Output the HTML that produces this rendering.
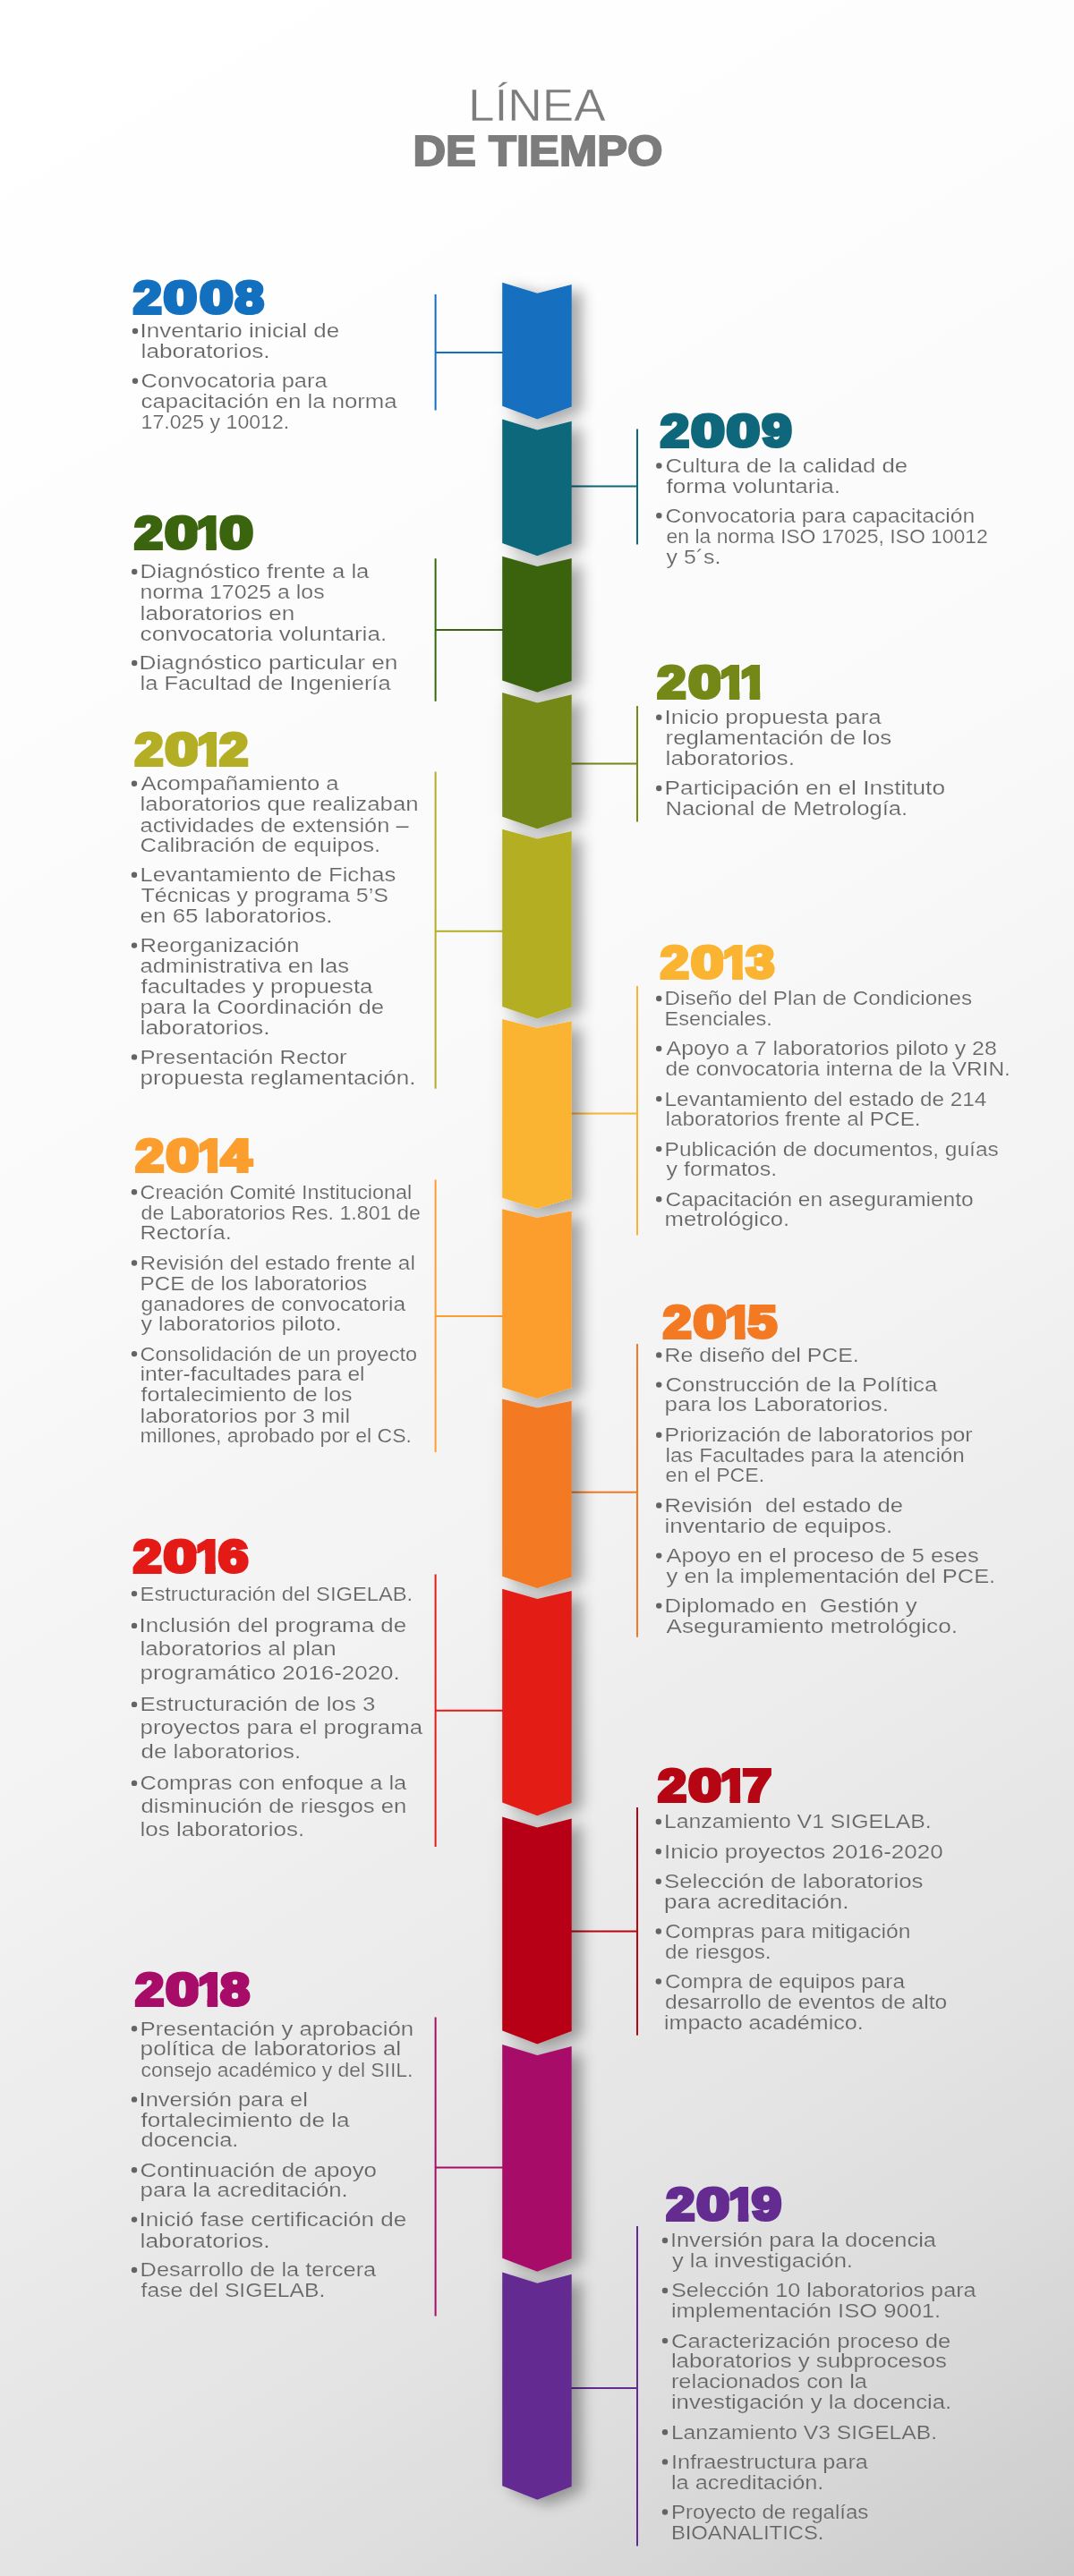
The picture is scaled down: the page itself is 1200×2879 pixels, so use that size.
<!DOCTYPE html>
<html lang="es"><head><meta charset="utf-8"><title>Línea de tiempo</title>
<style>
html,body{margin:0;padding:0;}
body{width:1200px;height:2879px;overflow:hidden;background:#e9e9e9;}
svg{display:block;}
text{font-family:"Liberation Sans",sans-serif;}
.b{font-size:22.3px;fill:#646464;}
.y{font-weight:bold;}
</style></head><body>
<svg width="1200" height="2879" viewBox="0 0 1200 2879">
<defs>
<linearGradient id="bg" gradientUnits="userSpaceOnUse" x1="0" y1="0" x2="1587.8" y2="2646.3">
<stop offset="0" stop-color="#ffffff"/><stop offset="0.222" stop-color="#fdfdfd"/><stop offset="0.417" stop-color="#f9f9f9"/><stop offset="0.583" stop-color="#f2f2f2"/><stop offset="0.722" stop-color="#e9e9e9"/><stop offset="0.81" stop-color="#e3e3e3"/><stop offset="0.889" stop-color="#dbdbdb"/><stop offset="1.0" stop-color="#cbcbcb"/>
</linearGradient>
<filter id="sh" x="-60%" y="-2%" width="260%" height="104%">
<feGaussianBlur in="SourceAlpha" stdDeviation="8"/><feOffset dx="12" dy="6"/>
<feComponentTransfer result="s1"><feFuncA type="linear" slope="0.31"/></feComponentTransfer>
<feGaussianBlur in="SourceAlpha" stdDeviation="10"/>
<feComponentTransfer result="s2"><feFuncA type="linear" slope="0.07"/></feComponentTransfer>
<feMerge><feMergeNode in="s2"/><feMergeNode in="s1"/><feMergeNode in="SourceGraphic"/></feMerge>
</filter>
</defs>
<rect width="1200" height="2879" fill="url(#bg)"/>
<text id="t1" x="523.0" y="135.1" font-size="50.4" fill="#7c7c7c" stroke="#fdfdfd" stroke-width="0.55" textLength="153.6" lengthAdjust="spacingAndGlyphs">LÍNEA</text>
<text id="t2" x="461.5" y="185.3" font-size="48.2" font-weight="bold" fill="#7c7c7c" stroke="#7c7c7c" stroke-width="2" textLength="278.9" lengthAdjust="spacingAndGlyphs">DE TIEMPO</text>
<path d="M486.6 329.0V458.4M486.6 394.0H562.2" stroke="#1270BF" stroke-width="2" fill="none"/>
<path d="M712.0 479.4V608.4M712.0 543.6H637.7" stroke="#0E677B" stroke-width="2" fill="none"/>
<path d="M486.6 624.3V783.8M486.6 704.0H562.2" stroke="#3B640E" stroke-width="2" fill="none"/>
<path d="M712.0 789.0V918.4M712.0 853.6H637.7" stroke="#738817" stroke-width="2" fill="none"/>
<path d="M486.6 862.6V1216.8M486.6 1040.8H562.2" stroke="#B3AE24" stroke-width="2" fill="none"/>
<path d="M712.0 1102.0V1380.5M712.0 1244.4H637.7" stroke="#FBB431" stroke-width="2" fill="none"/>
<path d="M486.6 1318.5V1623.0M486.6 1471.0H562.2" stroke="#FB9E2D" stroke-width="2" fill="none"/>
<path d="M712.0 1502.0V1829.7M712.0 1667.7H637.7" stroke="#F37922" stroke-width="2" fill="none"/>
<path d="M486.6 1759.6V2064.0M486.6 1911.8H562.2" stroke="#E41A17" stroke-width="2" fill="none"/>
<path d="M712.0 2020.0V2274.8M712.0 2158.6H637.7" stroke="#B70613" stroke-width="2" fill="none"/>
<path d="M486.6 2254.4V2588.5M486.6 2422.6H562.2" stroke="#A70D68" stroke-width="2" fill="none"/>
<path d="M712.0 2488.0V2845.4M712.0 2669.0H637.7" stroke="#642C91" stroke-width="2" fill="none"/>
<g filter="url(#sh)">
<path fill="#1270BF" d="M561.2 315.7L600.3 327.7L638.7 317.9L638.7 454.40000000000003L600.3 468.5L561.2 453.8Z"/>
<path fill="#0E677B" d="M561.2 468.6L600.3 480.4L638.7 470.8L638.7 607.6L600.3 621.3L561.2 607.0Z"/>
<path fill="#3B640E" d="M561.2 621.8L600.3 633.0L638.7 624.0L638.7 761.0L600.3 773.7L561.2 760.4Z"/>
<path fill="#738817" d="M561.2 774.0L600.3 785.5L638.7 776.2L638.7 913.4L600.3 926.3L561.2 912.8Z"/>
<path fill="#B3AE24" d="M561.2 926.8L600.3 937.5L638.7 929.0L638.7 1125.6L600.3 1138.5L561.2 1125.0Z"/>
<path fill="#FBB431" d="M561.2 1139.0L600.3 1149.0L638.7 1141.2L638.7 1339.3L600.3 1350.7L561.2 1338.7Z"/>
<path fill="#FB9E2D" d="M561.2 1351.2L600.3 1361.0L638.7 1353.4L638.7 1551.0L600.3 1563.0L561.2 1550.4Z"/>
<path fill="#F37922" d="M561.2 1563.5L600.3 1573.5L638.7 1565.7L638.7 1762.3999999999999L600.3 1775.0L561.2 1761.8Z"/>
<path fill="#E41A17" d="M561.2 1775.8L600.3 1787.0L638.7 1778.0L638.7 2015.1L600.3 2029.3L561.2 2014.5Z"/>
<path fill="#B70613" d="M561.2 2030.4L600.3 2042.4L638.7 2032.6000000000001L638.7 2270.1L600.3 2284.6L561.2 2269.5Z"/>
<path fill="#A70D68" d="M561.2 2284.9L600.3 2297.0L638.7 2287.1L638.7 2524.2999999999997L600.3 2538.8L561.2 2523.7Z"/>
<path fill="#642C91" d="M561.2 2539.5L600.3 2551.8L638.7 2541.7L638.7 2778.9L600.3 2793.7L561.2 2778.3Z"/>
</g>
<defs><clipPath id="cy2010"><path d="M147.80 574.00H183.40V617.40H147.80ZM182.00 574.00H220.50V617.40H182.00ZM220.50 574.00H241.80V617.40H230.36V592.42H220.50Z"/></clipPath><clipPath id="cy2011"><path d="M732.20 740.60H768.00V784.00H732.20ZM767.00 740.60H805.00V784.00H767.00ZM805.00 740.60H826.30V784.00H814.86V759.02H805.00ZM827.70 740.60H849.20V784.00H837.65V759.02H827.70Z"/></clipPath><clipPath id="cy2012"><path d="M148.30 815.30H183.80V858.70H148.30ZM182.30 815.30H220.80V858.70H182.30ZM220.80 815.30H242.10V858.70H230.66V833.72H220.80Z"/></clipPath><clipPath id="cy2013"><path d="M735.70 1053.70H771.30V1097.10H735.70ZM769.90 1053.70H808.20V1097.10H769.90ZM808.20 1053.70H829.80V1097.10H818.19V1072.12H808.20Z"/></clipPath><clipPath id="cy2014"><path d="M149.10 1269.50H184.70V1312.90H149.10ZM183.40 1269.50H221.90V1312.90H183.40ZM221.90 1269.50H243.20V1312.90H231.76V1287.92H221.90Z"/></clipPath><clipPath id="cy2015"><path d="M738.50 1456.00H774.00V1499.40H738.50ZM772.50 1456.00H811.10V1499.40H772.50ZM811.10 1456.00H832.60V1499.40H821.05V1474.42H811.10Z"/></clipPath><clipPath id="cy2016"><path d="M146.70 1717.60H182.30V1761.00H146.70ZM180.70 1717.60H219.40V1761.00H180.70ZM219.40 1717.60H240.80V1761.00H229.31V1736.02H219.40Z"/></clipPath><clipPath id="cy2017"><path d="M732.80 1973.30H768.40V2016.70H732.80ZM767.00 1973.30H805.50V2016.70H767.00ZM805.50 1973.30H827.10V2016.70H815.49V1991.72H805.50Z"/></clipPath><clipPath id="cy2018"><path d="M148.80 2201.50H184.60V2244.90H148.80ZM183.10 2201.50H221.60V2244.90H183.10ZM221.60 2201.50H243.20V2244.90H231.59V2219.92H221.60Z"/></clipPath><clipPath id="cy2019"><path d="M742.00 2441.20H777.70V2484.60H742.00ZM776.20 2441.20H814.70V2484.60H776.20ZM814.70 2441.20H836.30V2484.60H824.69V2459.62H814.70Z"/></clipPath></defs>
<g opacity="0.999">
<text class="y" font-size="49.71" fill="#1270BF" stroke="#1270BF" stroke-width="4.2" stroke-linejoin="miter"><tspan x="149.13" y="350.10" textLength="31.55" lengthAdjust="spacingAndGlyphs">2</tspan><tspan x="182.88" y="350.10" textLength="37.24" lengthAdjust="spacingAndGlyphs">0</tspan><tspan x="223.28" y="350.10" textLength="37.24" lengthAdjust="spacingAndGlyphs">0</tspan><tspan x="262.51" y="350.10" textLength="32.23" lengthAdjust="spacingAndGlyphs">8</tspan></text>
<text class="y" font-size="49.71" fill="#0E677B" stroke="#0E677B" stroke-width="4.2" stroke-linejoin="miter"><tspan x="738.13" y="498.50" textLength="31.84" lengthAdjust="spacingAndGlyphs">2</tspan><tspan x="772.18" y="498.50" textLength="37.44" lengthAdjust="spacingAndGlyphs">0</tspan><tspan x="811.88" y="498.50" textLength="37.24" lengthAdjust="spacingAndGlyphs">0</tspan><tspan x="851.55" y="498.50" textLength="33.04" lengthAdjust="spacingAndGlyphs">9</tspan></text>
<text class="y" font-size="49.71" fill="#3B640E" stroke="#3B640E" stroke-width="4.2" stroke-linejoin="miter" clip-path="url(#cy2010)"><tspan x="150.23" y="613.30" textLength="31.55" lengthAdjust="spacingAndGlyphs">2</tspan><tspan x="184.18" y="613.30" textLength="37.24" lengthAdjust="spacingAndGlyphs">0</tspan><tspan x="220.13" y="613.30" textLength="29.19" lengthAdjust="spacingAndGlyphs">1</tspan></text><text class="y" font-size="49.71" fill="#3B640E" stroke="#3B640E" stroke-width="4.2" stroke-linejoin="miter"><tspan x="245.48" y="613.30" textLength="37.24" lengthAdjust="spacingAndGlyphs">0</tspan></text>
<text class="y" font-size="49.71" fill="#738817" stroke="#738817" stroke-width="4.2" stroke-linejoin="miter" clip-path="url(#cy2011)"><tspan x="734.63" y="779.90" textLength="31.74" lengthAdjust="spacingAndGlyphs">2</tspan><tspan x="769.18" y="779.90" textLength="36.74" lengthAdjust="spacingAndGlyphs">0</tspan><tspan x="804.63" y="779.90" textLength="29.19" lengthAdjust="spacingAndGlyphs">1</tspan><tspan x="827.32" y="779.90" textLength="29.48" lengthAdjust="spacingAndGlyphs">1</tspan></text>
<text class="y" font-size="49.71" fill="#B3AE24" stroke="#B3AE24" stroke-width="4.2" stroke-linejoin="miter" clip-path="url(#cy2012)"><tspan x="150.73" y="854.60" textLength="31.45" lengthAdjust="spacingAndGlyphs">2</tspan><tspan x="184.48" y="854.60" textLength="37.24" lengthAdjust="spacingAndGlyphs">0</tspan><tspan x="220.43" y="854.60" textLength="29.19" lengthAdjust="spacingAndGlyphs">1</tspan></text><text class="y" font-size="49.71" fill="#B3AE24" stroke="#B3AE24" stroke-width="4.2" stroke-linejoin="miter"><tspan x="245.23" y="854.60" textLength="31.84" lengthAdjust="spacingAndGlyphs">2</tspan></text>
<text class="y" font-size="49.71" fill="#FBB431" stroke="#FBB431" stroke-width="4.2" stroke-linejoin="miter" clip-path="url(#cy2013)"><tspan x="738.13" y="1093.00" textLength="31.55" lengthAdjust="spacingAndGlyphs">2</tspan><tspan x="772.08" y="1093.00" textLength="37.04" lengthAdjust="spacingAndGlyphs">0</tspan><tspan x="807.81" y="1093.00" textLength="29.62" lengthAdjust="spacingAndGlyphs">1</tspan></text><text class="y" font-size="49.71" fill="#FBB431" stroke="#FBB431" stroke-width="4.2" stroke-linejoin="miter"><tspan x="833.40" y="1093.00" textLength="31.75" lengthAdjust="spacingAndGlyphs">3</tspan></text>
<text class="y" font-size="49.71" fill="#FB9E2D" stroke="#FB9E2D" stroke-width="4.2" stroke-linejoin="miter" clip-path="url(#cy2014)"><tspan x="151.53" y="1308.80" textLength="31.55" lengthAdjust="spacingAndGlyphs">2</tspan><tspan x="185.58" y="1308.80" textLength="37.24" lengthAdjust="spacingAndGlyphs">0</tspan><tspan x="221.53" y="1308.80" textLength="29.19" lengthAdjust="spacingAndGlyphs">1</tspan></text><text class="y" font-size="49.71" fill="#FB9E2D" stroke="#FB9E2D" stroke-width="4.2" stroke-linejoin="miter"><tspan x="246.96" y="1308.80" textLength="33.99" lengthAdjust="spacingAndGlyphs">4</tspan></text>
<text class="y" font-size="49.71" fill="#F37922" stroke="#F37922" stroke-width="4.2" stroke-linejoin="miter" clip-path="url(#cy2015)"><tspan x="740.93" y="1495.30" textLength="31.45" lengthAdjust="spacingAndGlyphs">2</tspan><tspan x="774.68" y="1495.30" textLength="37.34" lengthAdjust="spacingAndGlyphs">0</tspan><tspan x="810.72" y="1495.30" textLength="29.48" lengthAdjust="spacingAndGlyphs">1</tspan></text><text class="y" font-size="49.71" fill="#F37922" stroke="#F37922" stroke-width="4.2" stroke-linejoin="miter"><tspan x="835.66" y="1495.30" textLength="32.20" lengthAdjust="spacingAndGlyphs">5</tspan></text>
<text class="y" font-size="49.71" fill="#E41A17" stroke="#E41A17" stroke-width="4.2" stroke-linejoin="miter" clip-path="url(#cy2016)"><tspan x="149.13" y="1756.90" textLength="31.55" lengthAdjust="spacingAndGlyphs">2</tspan><tspan x="182.88" y="1756.90" textLength="37.44" lengthAdjust="spacingAndGlyphs">0</tspan><tspan x="219.02" y="1756.90" textLength="29.34" lengthAdjust="spacingAndGlyphs">1</tspan></text><text class="y" font-size="49.71" fill="#E41A17" stroke="#E41A17" stroke-width="4.2" stroke-linejoin="miter"><tspan x="244.04" y="1756.90" textLength="33.30" lengthAdjust="spacingAndGlyphs">6</tspan></text>
<text class="y" font-size="49.71" fill="#B70613" stroke="#B70613" stroke-width="4.2" stroke-linejoin="miter" clip-path="url(#cy2017)"><tspan x="735.23" y="2012.60" textLength="31.55" lengthAdjust="spacingAndGlyphs">2</tspan><tspan x="769.18" y="2012.60" textLength="37.24" lengthAdjust="spacingAndGlyphs">0</tspan><tspan x="805.11" y="2012.60" textLength="29.62" lengthAdjust="spacingAndGlyphs">1</tspan></text><text class="y" font-size="49.71" fill="#B70613" stroke="#B70613" stroke-width="4.2" stroke-linejoin="miter"><tspan x="829.76" y="2012.60" textLength="32.24" lengthAdjust="spacingAndGlyphs">7</tspan></text>
<text class="y" font-size="49.71" fill="#A70D68" stroke="#A70D68" stroke-width="4.2" stroke-linejoin="miter" clip-path="url(#cy2018)"><tspan x="151.23" y="2240.80" textLength="31.74" lengthAdjust="spacingAndGlyphs">2</tspan><tspan x="185.28" y="2240.80" textLength="37.24" lengthAdjust="spacingAndGlyphs">0</tspan><tspan x="221.21" y="2240.80" textLength="29.62" lengthAdjust="spacingAndGlyphs">1</tspan></text><text class="y" font-size="49.71" fill="#A70D68" stroke="#A70D68" stroke-width="4.2" stroke-linejoin="miter"><tspan x="246.32" y="2240.80" textLength="32.61" lengthAdjust="spacingAndGlyphs">8</tspan></text>
<text class="y" font-size="49.71" fill="#642C91" stroke="#642C91" stroke-width="4.2" stroke-linejoin="miter" clip-path="url(#cy2019)"><tspan x="744.43" y="2480.50" textLength="31.64" lengthAdjust="spacingAndGlyphs">2</tspan><tspan x="778.38" y="2480.50" textLength="37.24" lengthAdjust="spacingAndGlyphs">0</tspan><tspan x="814.31" y="2480.50" textLength="29.62" lengthAdjust="spacingAndGlyphs">1</tspan></text><text class="y" font-size="49.71" fill="#642C91" stroke="#642C91" stroke-width="4.2" stroke-linejoin="miter"><tspan x="839.95" y="2480.50" textLength="32.95" lengthAdjust="spacingAndGlyphs">9</tspan></text>
</g>
<g opacity="0.999">
<circle cx="151.0" cy="370.0" r="3.2" fill="#646464"/>
<text class="b" stroke="url(#bg)" stroke-width="0.22" xml:space="preserve" x="156.60" y="377.0" textLength="222.60" lengthAdjust="spacingAndGlyphs">Inventario inicial de</text>
<text class="b" stroke="url(#bg)" stroke-width="0.22" xml:space="preserve" x="157.60" y="399.5" textLength="144.00" lengthAdjust="spacingAndGlyphs">laboratorios.</text>
<circle cx="151.0" cy="425.7" r="3.2" fill="#646464"/>
<text class="b" stroke="url(#bg)" stroke-width="0.22" xml:space="preserve" x="157.60" y="432.7" textLength="208.00" lengthAdjust="spacingAndGlyphs">Convocatoria para</text>
<text class="b" stroke="url(#bg)" stroke-width="0.22" xml:space="preserve" x="157.60" y="455.8" textLength="286.00" lengthAdjust="spacingAndGlyphs">capacitación en la norma</text>
<text class="b" stroke="url(#bg)" stroke-width="0.22" xml:space="preserve" x="157.60" y="478.7" textLength="165.60" lengthAdjust="spacingAndGlyphs">17.025 y 10012.</text>
<circle cx="736.3" cy="520.5" r="3.2" fill="#646464"/>
<text class="b" stroke="url(#bg)" stroke-width="0.22" xml:space="preserve" x="743.60" y="528.3" textLength="270.60" lengthAdjust="spacingAndGlyphs">Cultura de la calidad de</text>
<text class="b" stroke="url(#bg)" stroke-width="0.22" xml:space="preserve" x="744.60" y="550.7" textLength="194.40" lengthAdjust="spacingAndGlyphs">forma voluntaria.</text>
<circle cx="736.3" cy="576.3" r="3.2" fill="#646464"/>
<text class="b" stroke="url(#bg)" stroke-width="0.22" xml:space="preserve" x="743.60" y="584.1" textLength="345.60" lengthAdjust="spacingAndGlyphs">Convocatoria para capacitación</text>
<text class="b" stroke="url(#bg)" stroke-width="0.22" xml:space="preserve" x="744.60" y="606.5" textLength="359.20" lengthAdjust="spacingAndGlyphs">en la norma ISO 17025, ISO 10012</text>
<text class="b" stroke="url(#bg)" stroke-width="0.22" xml:space="preserve" x="744.60" y="629.6" textLength="60.80" lengthAdjust="spacingAndGlyphs">y 5´s.</text>
<circle cx="150.2" cy="639.0" r="3.2" fill="#646464"/>
<text class="b" stroke="url(#bg)" stroke-width="0.22" xml:space="preserve" x="156.60" y="646.4" textLength="255.80" lengthAdjust="spacingAndGlyphs">Diagnóstico frente a la</text>
<text class="b" stroke="url(#bg)" stroke-width="0.22" xml:space="preserve" x="156.60" y="669.3" textLength="206.00" lengthAdjust="spacingAndGlyphs">norma 17025 a los</text>
<text class="b" stroke="url(#bg)" stroke-width="0.22" xml:space="preserve" x="156.60" y="692.7" textLength="172.60" lengthAdjust="spacingAndGlyphs">laboratorios en</text>
<text class="b" stroke="url(#bg)" stroke-width="0.22" xml:space="preserve" x="156.60" y="715.5" textLength="275.60" lengthAdjust="spacingAndGlyphs">convocatoria voluntaria.</text>
<circle cx="150.2" cy="741.0" r="3.2" fill="#646464"/>
<text class="b" stroke="url(#bg)" stroke-width="0.22" xml:space="preserve" x="155.60" y="748.4" textLength="288.80" lengthAdjust="spacingAndGlyphs">Diagnóstico particular en</text>
<text class="b" stroke="url(#bg)" stroke-width="0.22" xml:space="preserve" x="156.60" y="771.2" textLength="280.00" lengthAdjust="spacingAndGlyphs">la Facultad de Ingeniería</text>
<circle cx="736.2" cy="801.7" r="3.2" fill="#646464"/>
<text class="b" stroke="url(#bg)" stroke-width="0.22" xml:space="preserve" x="742.60" y="809.1" textLength="242.20" lengthAdjust="spacingAndGlyphs">Inicio propuesta para</text>
<text class="b" stroke="url(#bg)" stroke-width="0.22" xml:space="preserve" x="743.60" y="831.8" textLength="252.60" lengthAdjust="spacingAndGlyphs">reglamentación de los</text>
<text class="b" stroke="url(#bg)" stroke-width="0.22" xml:space="preserve" x="743.60" y="854.9" textLength="144.40" lengthAdjust="spacingAndGlyphs">laboratorios.</text>
<circle cx="736.2" cy="881.0" r="3.2" fill="#646464"/>
<text class="b" stroke="url(#bg)" stroke-width="0.22" xml:space="preserve" x="742.60" y="888.4" textLength="313.40" lengthAdjust="spacingAndGlyphs">Participación en el Instituto</text>
<text class="b" stroke="url(#bg)" stroke-width="0.22" xml:space="preserve" x="743.60" y="910.7" textLength="270.60" lengthAdjust="spacingAndGlyphs">Nacional de Metrología.</text>
<circle cx="150.0" cy="875.8" r="3.2" fill="#646464"/>
<text class="b" stroke="url(#bg)" stroke-width="0.22" xml:space="preserve" x="157.60" y="883.2" textLength="221.00" lengthAdjust="spacingAndGlyphs">Acompañamiento a</text>
<text class="b" stroke="url(#bg)" stroke-width="0.22" xml:space="preserve" x="156.60" y="906.0" textLength="311.00" lengthAdjust="spacingAndGlyphs">laboratorios que realizaban</text>
<text class="b" stroke="url(#bg)" stroke-width="0.22" xml:space="preserve" x="156.60" y="929.5" textLength="300.00" lengthAdjust="spacingAndGlyphs">actividades de extensión –</text>
<text class="b" stroke="url(#bg)" stroke-width="0.22" xml:space="preserve" x="156.60" y="952.3" textLength="268.60" lengthAdjust="spacingAndGlyphs">Calibración de equipos.</text>
<circle cx="150.0" cy="977.8" r="3.2" fill="#646464"/>
<text class="b" stroke="url(#bg)" stroke-width="0.22" xml:space="preserve" x="156.60" y="985.2" textLength="285.80" lengthAdjust="spacingAndGlyphs">Levantamiento de Fichas</text>
<text class="b" stroke="url(#bg)" stroke-width="0.22" xml:space="preserve" x="157.60" y="1008.0" textLength="276.40" lengthAdjust="spacingAndGlyphs">Técnicas y programa 5’S</text>
<text class="b" stroke="url(#bg)" stroke-width="0.22" xml:space="preserve" x="156.60" y="1030.8" textLength="215.00" lengthAdjust="spacingAndGlyphs">en 65 laboratorios.</text>
<circle cx="150.0" cy="1056.6" r="3.2" fill="#646464"/>
<text class="b" stroke="url(#bg)" stroke-width="0.22" xml:space="preserve" x="156.60" y="1064.0" textLength="177.80" lengthAdjust="spacingAndGlyphs">Reorganización</text>
<text class="b" stroke="url(#bg)" stroke-width="0.22" xml:space="preserve" x="156.60" y="1086.8" textLength="233.40" lengthAdjust="spacingAndGlyphs">administrativa en las</text>
<text class="b" stroke="url(#bg)" stroke-width="0.22" xml:space="preserve" x="157.60" y="1109.6" textLength="258.80" lengthAdjust="spacingAndGlyphs">facultades y propuesta</text>
<text class="b" stroke="url(#bg)" stroke-width="0.22" xml:space="preserve" x="156.60" y="1133.1" textLength="272.40" lengthAdjust="spacingAndGlyphs">para la Coordinación de</text>
<text class="b" stroke="url(#bg)" stroke-width="0.22" xml:space="preserve" x="156.60" y="1155.9" textLength="145.00" lengthAdjust="spacingAndGlyphs">laboratorios.</text>
<circle cx="150.0" cy="1181.4" r="3.2" fill="#646464"/>
<text class="b" stroke="url(#bg)" stroke-width="0.22" xml:space="preserve" x="156.60" y="1188.8" textLength="231.00" lengthAdjust="spacingAndGlyphs">Presentación Rector</text>
<text class="b" stroke="url(#bg)" stroke-width="0.22" xml:space="preserve" x="156.60" y="1212.0" textLength="307.80" lengthAdjust="spacingAndGlyphs">propuesta reglamentación.</text>
<circle cx="736.2" cy="1116.0" r="3.2" fill="#646464"/>
<text class="b" stroke="url(#bg)" stroke-width="0.22" xml:space="preserve" x="742.60" y="1123.4" textLength="343.60" lengthAdjust="spacingAndGlyphs">Diseño del Plan de Condiciones</text>
<text class="b" stroke="url(#bg)" stroke-width="0.22" xml:space="preserve" x="742.60" y="1146.2" textLength="120.20" lengthAdjust="spacingAndGlyphs">Esenciales.</text>
<circle cx="736.2" cy="1172.0" r="3.2" fill="#646464"/>
<text class="b" stroke="url(#bg)" stroke-width="0.22" xml:space="preserve" x="744.60" y="1179.4" textLength="369.20" lengthAdjust="spacingAndGlyphs">Apoyo a 7 laboratorios piloto y 28</text>
<text class="b" stroke="url(#bg)" stroke-width="0.22" xml:space="preserve" x="743.60" y="1202.2" textLength="385.20" lengthAdjust="spacingAndGlyphs">de convocatoria interna de la VRIN.</text>
<circle cx="736.2" cy="1228.1" r="3.2" fill="#646464"/>
<text class="b" stroke="url(#bg)" stroke-width="0.22" xml:space="preserve" x="742.60" y="1235.5" textLength="359.80" lengthAdjust="spacingAndGlyphs">Levantamiento del estado de 214</text>
<text class="b" stroke="url(#bg)" stroke-width="0.22" xml:space="preserve" x="743.60" y="1258.3" textLength="285.00" lengthAdjust="spacingAndGlyphs">laboratorios frente al PCE.</text>
<circle cx="736.2" cy="1284.1" r="3.2" fill="#646464"/>
<text class="b" stroke="url(#bg)" stroke-width="0.22" xml:space="preserve" x="742.60" y="1291.5" textLength="373.20" lengthAdjust="spacingAndGlyphs">Publicación de documentos, guías</text>
<text class="b" stroke="url(#bg)" stroke-width="0.22" xml:space="preserve" x="744.60" y="1314.4" textLength="123.60" lengthAdjust="spacingAndGlyphs">y formatos.</text>
<circle cx="736.2" cy="1340.2" r="3.2" fill="#646464"/>
<text class="b" stroke="url(#bg)" stroke-width="0.22" xml:space="preserve" x="743.60" y="1347.6" textLength="344.00" lengthAdjust="spacingAndGlyphs">Capacitación en aseguramiento</text>
<text class="b" stroke="url(#bg)" stroke-width="0.22" xml:space="preserve" x="742.60" y="1370.4" textLength="139.60" lengthAdjust="spacingAndGlyphs">metrológico.</text>
<circle cx="150.0" cy="1332.3" r="3.2" fill="#646464"/>
<text class="b" stroke="url(#bg)" stroke-width="0.22" xml:space="preserve" x="156.60" y="1339.7" textLength="303.60" lengthAdjust="spacingAndGlyphs">Creación Comité Institucional</text>
<text class="b" stroke="url(#bg)" stroke-width="0.22" xml:space="preserve" x="157.60" y="1362.5" textLength="312.20" lengthAdjust="spacingAndGlyphs">de Laboratorios Res. 1.801 de</text>
<text class="b" stroke="url(#bg)" stroke-width="0.22" xml:space="preserve" x="156.60" y="1385.3" textLength="102.20" lengthAdjust="spacingAndGlyphs">Rectoría.</text>
<circle cx="150.0" cy="1411.5" r="3.2" fill="#646464"/>
<text class="b" stroke="url(#bg)" stroke-width="0.22" xml:space="preserve" x="156.60" y="1418.9" textLength="307.20" lengthAdjust="spacingAndGlyphs">Revisión del estado frente al</text>
<text class="b" stroke="url(#bg)" stroke-width="0.22" xml:space="preserve" x="156.60" y="1441.7" textLength="253.60" lengthAdjust="spacingAndGlyphs">PCE de los laboratorios</text>
<text class="b" stroke="url(#bg)" stroke-width="0.22" xml:space="preserve" x="157.60" y="1464.5" textLength="295.60" lengthAdjust="spacingAndGlyphs">ganadores de convocatoria</text>
<text class="b" stroke="url(#bg)" stroke-width="0.22" xml:space="preserve" x="157.60" y="1487.3" textLength="224.00" lengthAdjust="spacingAndGlyphs">y laboratorios piloto.</text>
<circle cx="150.0" cy="1513.1" r="3.2" fill="#646464"/>
<text class="b" stroke="url(#bg)" stroke-width="0.22" xml:space="preserve" x="156.60" y="1520.5" textLength="309.40" lengthAdjust="spacingAndGlyphs">Consolidación de un proyecto</text>
<text class="b" stroke="url(#bg)" stroke-width="0.22" xml:space="preserve" x="156.60" y="1543.4" textLength="251.00" lengthAdjust="spacingAndGlyphs">inter-facultades para el</text>
<text class="b" stroke="url(#bg)" stroke-width="0.22" xml:space="preserve" x="157.60" y="1566.2" textLength="236.00" lengthAdjust="spacingAndGlyphs">fortalecimiento de los</text>
<text class="b" stroke="url(#bg)" stroke-width="0.22" xml:space="preserve" x="156.60" y="1589.6" textLength="234.40" lengthAdjust="spacingAndGlyphs">laboratorios por 3 mil</text>
<text class="b" stroke="url(#bg)" stroke-width="0.22" xml:space="preserve" x="156.60" y="1612.4" textLength="303.40" lengthAdjust="spacingAndGlyphs">millones, aprobado por el CS.</text>
<circle cx="736.2" cy="1514.4" r="3.2" fill="#646464"/>
<text class="b" stroke="url(#bg)" stroke-width="0.22" xml:space="preserve" x="742.60" y="1521.8" textLength="217.20" lengthAdjust="spacingAndGlyphs">Re diseño del PCE.</text>
<circle cx="736.2" cy="1547.6" r="3.2" fill="#646464"/>
<text class="b" stroke="url(#bg)" stroke-width="0.22" xml:space="preserve" x="743.60" y="1555.0" textLength="303.60" lengthAdjust="spacingAndGlyphs">Construcción de la Política</text>
<text class="b" stroke="url(#bg)" stroke-width="0.22" xml:space="preserve" x="742.60" y="1577.4" textLength="250.40" lengthAdjust="spacingAndGlyphs">para los Laboratorios.</text>
<circle cx="736.2" cy="1603.7" r="3.2" fill="#646464"/>
<text class="b" stroke="url(#bg)" stroke-width="0.22" xml:space="preserve" x="742.60" y="1611.1" textLength="344.00" lengthAdjust="spacingAndGlyphs">Priorización de laboratorios por</text>
<text class="b" stroke="url(#bg)" stroke-width="0.22" xml:space="preserve" x="743.60" y="1633.9" textLength="334.00" lengthAdjust="spacingAndGlyphs">las Facultades para la atención</text>
<text class="b" stroke="url(#bg)" stroke-width="0.22" xml:space="preserve" x="743.60" y="1656.3" textLength="110.60" lengthAdjust="spacingAndGlyphs">en el PCE.</text>
<circle cx="736.2" cy="1682.5" r="3.2" fill="#646464"/>
<text class="b" stroke="url(#bg)" stroke-width="0.22" xml:space="preserve" x="742.60" y="1689.9" textLength="266.40" lengthAdjust="spacingAndGlyphs">Revisión  del estado de</text>
<text class="b" stroke="url(#bg)" stroke-width="0.22" xml:space="preserve" x="742.60" y="1712.7" textLength="254.60" lengthAdjust="spacingAndGlyphs">inventario de equipos.</text>
<circle cx="736.2" cy="1738.6" r="3.2" fill="#646464"/>
<text class="b" stroke="url(#bg)" stroke-width="0.22" xml:space="preserve" x="744.60" y="1746.0" textLength="349.00" lengthAdjust="spacingAndGlyphs">Apoyo en el proceso de 5 eses</text>
<text class="b" stroke="url(#bg)" stroke-width="0.22" xml:space="preserve" x="744.60" y="1768.8" textLength="367.60" lengthAdjust="spacingAndGlyphs">y en la implementación del PCE.</text>
<circle cx="736.2" cy="1794.6" r="3.2" fill="#646464"/>
<text class="b" stroke="url(#bg)" stroke-width="0.22" xml:space="preserve" x="742.60" y="1802.0" textLength="282.00" lengthAdjust="spacingAndGlyphs">Diplomado en  Gestión y</text>
<text class="b" stroke="url(#bg)" stroke-width="0.22" xml:space="preserve" x="744.60" y="1824.5" textLength="325.40" lengthAdjust="spacingAndGlyphs">Aseguramiento metrológico.</text>
<circle cx="150.0" cy="1781.1" r="3.2" fill="#646464"/>
<text class="b" stroke="url(#bg)" stroke-width="0.22" xml:space="preserve" x="156.60" y="1788.5" textLength="304.60" lengthAdjust="spacingAndGlyphs">Estructuración del SIGELAB.</text>
<circle cx="150.0" cy="1816.9" r="3.2" fill="#646464"/>
<text class="b" stroke="url(#bg)" stroke-width="0.22" xml:space="preserve" x="155.60" y="1824.3" textLength="298.60" lengthAdjust="spacingAndGlyphs">Inclusión del programa de</text>
<text class="b" stroke="url(#bg)" stroke-width="0.22" xml:space="preserve" x="156.60" y="1850.4" textLength="219.20" lengthAdjust="spacingAndGlyphs">laboratorios al plan</text>
<text class="b" stroke="url(#bg)" stroke-width="0.22" xml:space="preserve" x="156.60" y="1876.5" textLength="290.20" lengthAdjust="spacingAndGlyphs">programático 2016-2020.</text>
<circle cx="150.0" cy="1904.9" r="3.2" fill="#646464"/>
<text class="b" stroke="url(#bg)" stroke-width="0.22" xml:space="preserve" x="156.60" y="1912.3" textLength="262.80" lengthAdjust="spacingAndGlyphs">Estructuración de los 3</text>
<text class="b" stroke="url(#bg)" stroke-width="0.22" xml:space="preserve" x="156.60" y="1938.4" textLength="315.40" lengthAdjust="spacingAndGlyphs">proyectos para el programa</text>
<text class="b" stroke="url(#bg)" stroke-width="0.22" xml:space="preserve" x="157.60" y="1964.5" textLength="178.60" lengthAdjust="spacingAndGlyphs">de laboratorios.</text>
<circle cx="150.0" cy="1992.9" r="3.2" fill="#646464"/>
<text class="b" stroke="url(#bg)" stroke-width="0.22" xml:space="preserve" x="156.60" y="2000.3" textLength="297.60" lengthAdjust="spacingAndGlyphs">Compras con enfoque a la</text>
<text class="b" stroke="url(#bg)" stroke-width="0.22" xml:space="preserve" x="157.60" y="2026.4" textLength="296.60" lengthAdjust="spacingAndGlyphs">disminución de riesgos en</text>
<text class="b" stroke="url(#bg)" stroke-width="0.22" xml:space="preserve" x="156.60" y="2052.4" textLength="183.60" lengthAdjust="spacingAndGlyphs">los laboratorios.</text>
<circle cx="735.8" cy="2036.0" r="3.2" fill="#646464"/>
<text class="b" stroke="url(#bg)" stroke-width="0.22" xml:space="preserve" x="742.00" y="2043.4" textLength="298.60" lengthAdjust="spacingAndGlyphs">Lanzamiento V1 SIGELAB.</text>
<circle cx="735.8" cy="2069.2" r="3.2" fill="#646464"/>
<text class="b" stroke="url(#bg)" stroke-width="0.22" xml:space="preserve" x="742.00" y="2076.6" textLength="311.60" lengthAdjust="spacingAndGlyphs">Inicio proyectos 2016-2020</text>
<circle cx="735.8" cy="2102.8" r="3.2" fill="#646464"/>
<text class="b" stroke="url(#bg)" stroke-width="0.22" xml:space="preserve" x="742.00" y="2110.2" textLength="289.40" lengthAdjust="spacingAndGlyphs">Selección de laboratorios</text>
<text class="b" stroke="url(#bg)" stroke-width="0.22" xml:space="preserve" x="742.00" y="2132.7" textLength="206.40" lengthAdjust="spacingAndGlyphs">para acreditación.</text>
<circle cx="735.8" cy="2158.5" r="3.2" fill="#646464"/>
<text class="b" stroke="url(#bg)" stroke-width="0.22" xml:space="preserve" x="743.00" y="2165.9" textLength="274.60" lengthAdjust="spacingAndGlyphs">Compras para mitigación</text>
<text class="b" stroke="url(#bg)" stroke-width="0.22" xml:space="preserve" x="743.00" y="2188.7" textLength="118.60" lengthAdjust="spacingAndGlyphs">de riesgos.</text>
<circle cx="735.8" cy="2214.5" r="3.2" fill="#646464"/>
<text class="b" stroke="url(#bg)" stroke-width="0.22" xml:space="preserve" x="743.00" y="2221.9" textLength="268.00" lengthAdjust="spacingAndGlyphs">Compra de equipos para</text>
<text class="b" stroke="url(#bg)" stroke-width="0.22" xml:space="preserve" x="743.00" y="2244.8" textLength="315.20" lengthAdjust="spacingAndGlyphs">desarrollo de eventos de alto</text>
<text class="b" stroke="url(#bg)" stroke-width="0.22" xml:space="preserve" x="742.00" y="2267.6" textLength="222.60" lengthAdjust="spacingAndGlyphs">impacto académico.</text>
<circle cx="150.0" cy="2267.2" r="3.2" fill="#646464"/>
<text class="b" stroke="url(#bg)" stroke-width="0.22" xml:space="preserve" x="156.60" y="2274.6" textLength="305.60" lengthAdjust="spacingAndGlyphs">Presentación y aprobación</text>
<text class="b" stroke="url(#bg)" stroke-width="0.22" xml:space="preserve" x="156.60" y="2297.4" textLength="291.60" lengthAdjust="spacingAndGlyphs">política de laboratorios al</text>
<text class="b" stroke="url(#bg)" stroke-width="0.22" xml:space="preserve" x="157.60" y="2320.9" textLength="303.80" lengthAdjust="spacingAndGlyphs">consejo académico y del SIIL.</text>
<circle cx="150.0" cy="2346.4" r="3.2" fill="#646464"/>
<text class="b" stroke="url(#bg)" stroke-width="0.22" xml:space="preserve" x="155.60" y="2353.8" textLength="188.20" lengthAdjust="spacingAndGlyphs">Inversión para el</text>
<text class="b" stroke="url(#bg)" stroke-width="0.22" xml:space="preserve" x="157.60" y="2376.6" textLength="232.80" lengthAdjust="spacingAndGlyphs">fortalecimiento de la</text>
<text class="b" stroke="url(#bg)" stroke-width="0.22" xml:space="preserve" x="157.60" y="2399.4" textLength="108.80" lengthAdjust="spacingAndGlyphs">docencia.</text>
<circle cx="150.0" cy="2425.2" r="3.2" fill="#646464"/>
<text class="b" stroke="url(#bg)" stroke-width="0.22" xml:space="preserve" x="156.60" y="2432.6" textLength="264.40" lengthAdjust="spacingAndGlyphs">Continuación de apoyo</text>
<text class="b" stroke="url(#bg)" stroke-width="0.22" xml:space="preserve" x="156.60" y="2455.4" textLength="232.20" lengthAdjust="spacingAndGlyphs">para la acreditación.</text>
<circle cx="150.0" cy="2480.6" r="3.2" fill="#646464"/>
<text class="b" stroke="url(#bg)" stroke-width="0.22" xml:space="preserve" x="155.60" y="2488.0" textLength="298.80" lengthAdjust="spacingAndGlyphs">Inició fase certificación de</text>
<text class="b" stroke="url(#bg)" stroke-width="0.22" xml:space="preserve" x="156.60" y="2511.5" textLength="145.00" lengthAdjust="spacingAndGlyphs">laboratorios.</text>
<circle cx="150.0" cy="2537.0" r="3.2" fill="#646464"/>
<text class="b" stroke="url(#bg)" stroke-width="0.22" xml:space="preserve" x="156.60" y="2544.4" textLength="263.60" lengthAdjust="spacingAndGlyphs">Desarrollo de la tercera</text>
<text class="b" stroke="url(#bg)" stroke-width="0.22" xml:space="preserve" x="157.60" y="2567.2" textLength="205.80" lengthAdjust="spacingAndGlyphs">fase del SIGELAB.</text>
<circle cx="743.0" cy="2504.0" r="3.2" fill="#646464"/>
<text class="b" stroke="url(#bg)" stroke-width="0.22" xml:space="preserve" x="748.90" y="2511.4" textLength="297.10" lengthAdjust="spacingAndGlyphs">Inversión para la docencia</text>
<text class="b" stroke="url(#bg)" stroke-width="0.22" xml:space="preserve" x="750.90" y="2534.2" textLength="202.10" lengthAdjust="spacingAndGlyphs">y la investigación.</text>
<circle cx="743.0" cy="2560.0" r="3.2" fill="#646464"/>
<text class="b" stroke="url(#bg)" stroke-width="0.22" xml:space="preserve" x="749.90" y="2567.4" textLength="340.70" lengthAdjust="spacingAndGlyphs">Selección 10 laboratorios para</text>
<text class="b" stroke="url(#bg)" stroke-width="0.22" xml:space="preserve" x="749.90" y="2590.3" textLength="301.30" lengthAdjust="spacingAndGlyphs">implementación ISO 9001.</text>
<circle cx="743.0" cy="2616.1" r="3.2" fill="#646464"/>
<text class="b" stroke="url(#bg)" stroke-width="0.22" xml:space="preserve" x="749.90" y="2623.5" textLength="312.30" lengthAdjust="spacingAndGlyphs">Caracterización proceso de</text>
<text class="b" stroke="url(#bg)" stroke-width="0.22" xml:space="preserve" x="749.90" y="2646.3" textLength="308.10" lengthAdjust="spacingAndGlyphs">laboratorios y subprocesos</text>
<text class="b" stroke="url(#bg)" stroke-width="0.22" xml:space="preserve" x="749.90" y="2669.1" textLength="219.10" lengthAdjust="spacingAndGlyphs">relacionados con la</text>
<text class="b" stroke="url(#bg)" stroke-width="0.22" xml:space="preserve" x="749.90" y="2692.0" textLength="313.30" lengthAdjust="spacingAndGlyphs">investigación y la docencia.</text>
<circle cx="743.0" cy="2718.2" r="3.2" fill="#646464"/>
<text class="b" stroke="url(#bg)" stroke-width="0.22" xml:space="preserve" x="749.90" y="2725.6" textLength="297.10" lengthAdjust="spacingAndGlyphs">Lanzamiento V3 SIGELAB.</text>
<circle cx="743.0" cy="2751.4" r="3.2" fill="#646464"/>
<text class="b" stroke="url(#bg)" stroke-width="0.22" xml:space="preserve" x="749.90" y="2758.8" textLength="219.90" lengthAdjust="spacingAndGlyphs">Infraestructura para</text>
<text class="b" stroke="url(#bg)" stroke-width="0.22" xml:space="preserve" x="749.90" y="2781.6" textLength="170.50" lengthAdjust="spacingAndGlyphs">la acreditación.</text>
<circle cx="743.0" cy="2807.5" r="3.2" fill="#646464"/>
<text class="b" stroke="url(#bg)" stroke-width="0.22" xml:space="preserve" x="749.90" y="2814.9" textLength="220.50" lengthAdjust="spacingAndGlyphs">Proyecto de regalías</text>
<text class="b" stroke="url(#bg)" stroke-width="0.22" xml:space="preserve" x="749.90" y="2837.7" textLength="170.50" lengthAdjust="spacingAndGlyphs">BIOANALITICS.</text>
</g>
</svg></body></html>
